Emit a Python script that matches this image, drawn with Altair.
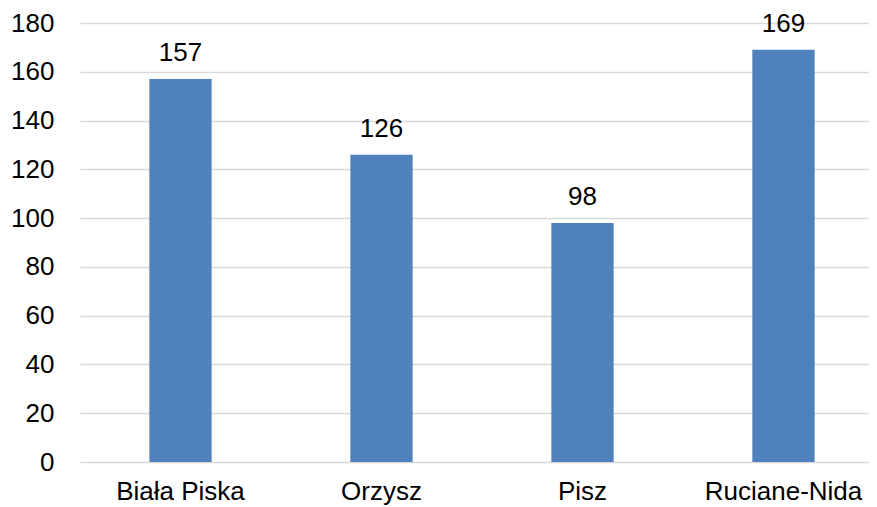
import altair as alt
import pandas as pd

categories = ["Biała Piska", "Orzysz", "Pisz", "Ruciane-Nida"]
values = [157, 126, 98, 169]

df = pd.DataFrame({"cat": categories, "val": values})

x = alt.X("cat:N", sort=categories, title=None,
          scale=alt.Scale(paddingInner=0.69, paddingOuter=0.345, range=[0, 804]),
          axis=alt.Axis(labelAngle=0, labelFontSize=26, labelColor="#000000",
                        labelFont="Liberation Sans", labelPadding=37,
                        labelBaseline="alphabetic",
                        ticks=False, domain=False, grid=False))
y = alt.Y("val:Q", title=None,
          scale=alt.Scale(domain=[0, 180], nice=False),
          axis=alt.Axis(values=list(range(0, 181, 20)), labelFontSize=26,
                        labelColor="#000000", labelFont="Liberation Sans",
                        labelPadding=26, ticks=False, domain=False,
                        gridColor="#d9d9d9", gridWidth=1.5))

bars = alt.Chart(df).mark_bar(color="#4f81bd").encode(x=x, y=y)
labels = alt.Chart(df).mark_text(baseline="alphabetic", dy=-18, fontSize=26,
                                 font="Liberation Sans", color="#000000").encode(
    x=alt.X("cat:N", sort=categories), y="val:Q", text="val:Q")

chart = (bars + labels).properties(
    width=789, height=439,
    autosize=alt.AutoSizeParams(type="none"),
    padding={"left": 72, "top": 15, "right": 0, "bottom": 45},
).configure_view(stroke=None)

chart.save("out.html", embed_options={"renderer": "svg", "actions": False})
